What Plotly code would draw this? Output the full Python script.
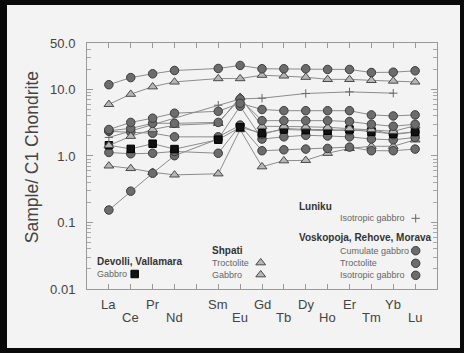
import plotly.graph_objects as go

# ---------------- data ----------------
elements = ["La", "Ce", "Pr", "Nd", "Pm", "Sm", "Eu", "Gd", "Tb", "Dy", "Ho", "Er", "Tm", "Yb", "Lu"]
upper_labels = ["La", "Pr", "Sm", "Gd", "Dy", "Er", "Yb"]
lower_labels = ["Ce", "Nd", "Eu", "Tb", "Ho", "Tm", "Lu"]

y_tickvals = [0.01, 0.1, 1, 10, 50]
y_ticktext = ["0.01", "0.1", "1.0", "10.0", "50.0"]

# Voskopoja, Rehove, Morava (circles)
vosk_cumulate_1 = [11.8, 15.1, 17.2, 19.3, None, 20.7, 23.0, 20.5, 20.5, 20.5, 20.0, 20.0, 18.0, 18.2, 19.1]
vosk_cumulate_2 = [2.5, 3.2, 3.7, 4.4, None, 4.7, 6.2, 5.0, 4.8, 4.8, 4.8, 4.8, 4.15, 4.0, 4.15]
vosk_troctolite_1 = [2.4, 2.6, 3.1, 3.1, None, 3.2, 7.2, 3.4, 3.4, 3.4, 3.4, 3.3, 3.0, 2.8, 3.0]
vosk_troctolite_2 = [2.35, 2.3, 2.2, 1.94, None, 1.94, 2.9, 2.1, 2.6, 2.5, 2.5, 2.4, 2.5, 2.1, 2.3]
vosk_isotropic_1 = [1.13, 1.08, 1.10, 1.17, None, 1.10, 2.9, 1.2, 1.24, 1.27, 1.3, 1.36, 1.2, 1.2, 1.27]
vosk_isotropic_2 = [0.154, 0.296, 0.55, 1.01, None, 1.8, 5.6, 1.8, 1.94, 2.05, 2.0, 1.94, 1.8, 1.75, 1.9]

# Shpati (triangles)
shpati_gabbro_1 = [5.98, 8.5, 11.0, 13.0, None, 14.6, 14.6, 16.4, 16.0, 15.3, 14.2, 14.2, 13.7, 13.4, 13.0]
shpati_gabbro_2 = [1.44, 1.98, 2.5, 2.9, None, 3.1, 7.65, 2.8, 2.8, 2.75, 2.7, 2.6, 2.5, 2.35, 2.85]
shpati_troctolite_1 = [0.71, 0.65, 0.57, 0.52, None, 0.54, 2.5, 0.69, 0.85, 0.86, 1.10, 1.3, 1.4, 1.4, 1.75]

# Devolli, Vallamara (squares)
devolli_gabbro = [1.45, 1.28, 1.53, 1.27, None, 1.76, 2.7, 2.2, 2.5, 2.45, 2.4, 2.5, 2.3, 2.15, 2.3]

# Luniku (plus)
luniku_isotropic = [1.9, None, None, None, None, 5.8, 7.2, 7.4, None, 8.7, None, 9.2, None, 8.8, None]

# ---------------- styles ----------------
BG = "#f3f3f3"
LINE = "#8c8c8c"
CIRCLE = dict(symbol="circle", size=8.5, color="#6c6c6c", line=dict(color="#3c3c3c", width=1))
TRI = dict(symbol="triangle-up", size=8.5, color="#b6b6b6", line=dict(color="#4a4a4a", width=1))
SQUARE = dict(symbol="square", size=7.5, color="#111111", line=dict(color="#000000", width=1))
PLUS = dict(symbol="cross-thin", size=6, color="#666666", line=dict(color="#666666", width=1))

x_idx = list(range(len(elements)))

fig = go.Figure()

def add_series(vals, marker):
    fig.add_trace(go.Scatter(
        x=x_idx, y=vals, mode="lines+markers", connectgaps=True,
        line=dict(color=LINE, width=1), marker=marker, showlegend=False,
        hoverinfo="skip"))

add_series(luniku_isotropic, PLUS)
add_series(shpati_troctolite_1, TRI)
add_series(vosk_isotropic_2, CIRCLE)
add_series(vosk_isotropic_1, CIRCLE)
add_series(vosk_troctolite_2, CIRCLE)
add_series(devolli_gabbro, SQUARE)
add_series(shpati_gabbro_2, TRI)
add_series(vosk_troctolite_1, CIRCLE)
add_series(vosk_cumulate_2, CIRCLE)
add_series(shpati_gabbro_1, TRI)
add_series(vosk_cumulate_1, CIRCLE)

# ---------------- geometry helpers ----------------
W, H = 464, 353
L, R, T, B = 87, 27, 43, 64
PW, PH = W - L - R, H - T - B

def px(x):
    return (x - L) / PW

def py(y):
    return (H - B - y) / PH

# legend symbols on an overlay axis (fractions of the plot area)
leg_x = [px(415.7), px(415.7), px(415.7), px(415.7), px(260.7), px(260.7), px(134.7)]
leg_y = [py(218.3), py(250.7), py(263.3), py(275.3), py(262.7), py(274.7), py(274.0)]
leg_markers = [PLUS, CIRCLE, CIRCLE, CIRCLE, TRI, TRI, SQUARE]
for lx, ly, mk in zip(leg_x, leg_y, leg_markers):
    fig.add_trace(go.Scatter(x=[lx], y=[ly], mode="markers", marker=mk,
                             xaxis="x2", yaxis="y2", showlegend=False, hoverinfo="skip"))

annotations = []
FONT = "Liberation Sans, Arial, sans-serif"

# element labels
for name in upper_labels:
    annotations.append(dict(x=elements.index(name), y=py(304.3), xref="x", yref="paper",
                            text=name, showarrow=False, xanchor="center", yanchor="middle",
                            font=dict(family=FONT, size=13, color="#444")))
for name in lower_labels:
    annotations.append(dict(x=elements.index(name), y=py(317.3), xref="x", yref="paper",
                            text=name, showarrow=False, xanchor="center", yanchor="middle",
                            font=dict(family=FONT, size=13, color="#444")))

# y title
annotations.append(dict(x=px(31.7), y=py(157.5), xref="paper", yref="paper",
                        text="Sample/ C1 Chondrite", textangle=-90, showarrow=False,
                        xanchor="center", yanchor="middle",
                        font=dict(family=FONT, size=17.5, color="#444")))

def leg_text(x, y, text, bold=False):
    annotations.append(dict(x=px(x), y=py(y), xref="paper", yref="paper",
                            text=("<b>%s</b>" % text) if bold else text, showarrow=False,
                            xanchor="left", yanchor="middle",
                            font=dict(family=FONT, size=10 if bold else 9,
                                      color="#333" if bold else "#666")))

leg_text(297, 206.7, "Luniku", True)
leg_text(338, 218.3, "Isotropic gabbro")
leg_text(297, 237.3, "Voskopoja, Rehove, Morava", True)
leg_text(337.5, 250.7, "Cumulate gabbro")
leg_text(337.5, 263.3, "Troctolite")
leg_text(337.5, 275.3, "Isotropic gabbro")
leg_text(210, 250.0, "Shpati", True)
leg_text(210, 262.7, "Troctolite")
leg_text(210, 274.7, "Gabbro")
leg_text(94.5, 261.0, "Devolli, Vallamara", True)
leg_text(94.5, 274.0, "Gabbro")

# black outer frame
shapes = []
for (x0, y0, x1, y1) in [(0, 0, W, 5), (0, 348, W, H), (0, 0, 7, H), (460, 0, W, H)]:
    shapes.append(dict(type="rect", xref="paper", yref="paper",
                       x0=px(x0), x1=px(x1), y0=py(y1), y1=py(y0),
                       fillcolor="#0a0a0a", line=dict(width=0), layer="above"))

minor_vals = [k * 10 ** e for e in range(-2, 2) for k in range(2, 10) if k * 10 ** e < 50]

fig.update_layout(
    width=W, height=H,
    margin=dict(l=L, r=R, t=T, b=B),
    paper_bgcolor=BG, plot_bgcolor=BG,
    showlegend=False,
    xaxis=dict(range=[-1, 15], tickmode="array", tickvals=x_idx, showticklabels=False,
               ticks="inside", ticklen=5, tickcolor="#999", showline=True, linecolor="#999",
               linewidth=1, mirror="ticks", showgrid=False, zeroline=False),
    yaxis=dict(type="log", range=[-2, 1.699], tickmode="array", tickvals=y_tickvals,
               ticktext=y_ticktext, ticks="inside", ticklen=6, tickcolor="#999",
               showline=True, linecolor="#999", linewidth=1, mirror="ticks",
               showgrid=False, zeroline=False, ticklabelstandoff=8,
               tickfont=dict(family=FONT, size=13, color="#444"),
               minor=dict(tickvals=minor_vals, ticks="inside", ticklen=4, tickcolor="#aaa",
                          showgrid=False)),
    xaxis2=dict(range=[0, 1], overlaying="x", visible=False),
    yaxis2=dict(range=[0, 1], overlaying="y", visible=False),
    annotations=annotations,
    shapes=shapes,
)

fig.write_html("out.html")
